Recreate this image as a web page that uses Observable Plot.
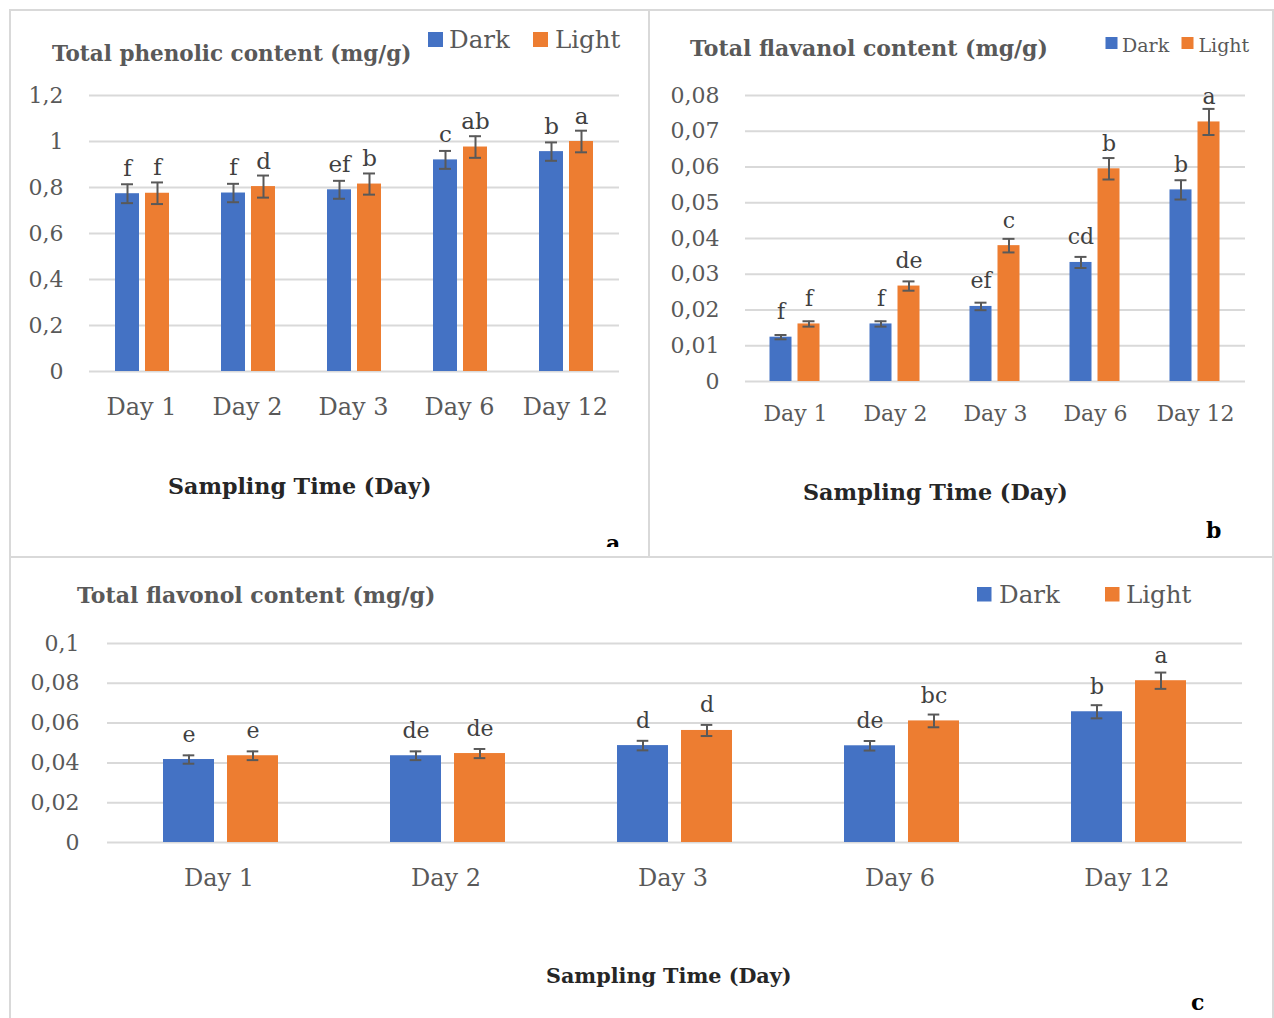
<!DOCTYPE html>
<html>
<head>
<meta charset="utf-8">
<script src="https://cdn.jsdelivr.net/npm/d3@7"></script>
<script src="https://cdn.jsdelivr.net/npm/@observablehq/plot@0.6"></script>
<style>
  body { margin: 0; background: #fff; }
  #page { position: relative; width: 1274px; height: 1018px; overflow: hidden; background: #fff; font-family: "DejaVu Serif", serif; }
  .chart { position: absolute; }
  .frame { position: absolute; border: 2px solid #d9d9d9; box-sizing: border-box; pointer-events: none; }
  #overlay { position: absolute; left: 0; top: 0; pointer-events: none; }
</style>
</head>
<body>
<div id="page"></div>
<script>
// Sampling days and treatment groups
const days = ["Day 1", "Day 2", "Day 3", "Day 6", "Day 12"];
const groups = ["Dark", "Light"];
const groupColors = ["#4472C4", "#ED7D31"];

// Total phenolic content (mg/g)
const phenolicDark = [0.773, 0.776, 0.790, 0.920, 0.956];
const phenolicLight = [0.775, 0.804, 0.815, 0.976, 1.000];
const phenolicDarkErr = [0.041, 0.040, 0.039, 0.039, 0.040];
const phenolicLightErr = [0.047, 0.048, 0.046, 0.047, 0.047];
const phenolicDarkLetters = ["f", "f", "ef", "c", "b"];
const phenolicLightLetters = ["f", "d", "b", "ab", "a"];
const phenolicTicks = [0, 0.2, 0.4, 0.6, 0.8, 1, 1.2];

// Total flavanol content (mg/g)
const flavanolDark = [0.0124, 0.0161, 0.0210, 0.0333, 0.0536];
const flavanolLight = [0.0161, 0.0267, 0.0380, 0.0595, 0.0726];
const flavanolDarkErr = [0.0006, 0.00075, 0.00105, 0.00155, 0.0027];
const flavanolLightErr = [0.00075, 0.0013, 0.0019, 0.0030, 0.00365];
const flavanolDarkLetters = ["f", "f", "ef", "cd", "b"];
const flavanolLightLetters = ["f", "de", "c", "b", "a"];
const flavanolTicks = [0, 0.01, 0.02, 0.03, 0.04, 0.05, 0.06, 0.07, 0.08];

// Total flavonol content (mg/g)
const flavonolDark = [0.0417, 0.0436, 0.0487, 0.0486, 0.0657];
const flavonolLight = [0.0436, 0.0447, 0.0563, 0.0611, 0.0813];
const flavonolDarkErr = [0.0021, 0.0022, 0.0024, 0.0024, 0.0033];
const flavonolLightErr = [0.0022, 0.0023, 0.0028, 0.0032, 0.0041];
const flavonolDarkLetters = ["e", "de", "d", "de", "b"];
const flavonolLightLetters = ["e", "de", "d", "bc", "a"];
const flavonolTicks = [0, 0.02, 0.04, 0.06, 0.08, 0.1];

const decimalComma = d => String(d).replace(".", ",");

function rowsFor(dark, light, darkErr, lightErr, darkLetters, lightLetters) {
  const rows = [];
  days.forEach((day, i) => {
    rows.push({day, group: "Dark", value: dark[i], err: darkErr[i], letter: darkLetters[i]});
    rows.push({day, group: "Light", value: light[i], err: lightErr[i], letter: lightLetters[i]});
  });
  return rows;
}

function groupedBars(rows, ticks, opt) {
  return Plot.plot({
    width: opt.width,
    height: opt.height,
    marginLeft: opt.ml,
    marginRight: opt.mr,
    marginTop: opt.mt,
    marginBottom: opt.mb,
    style: {fontFamily: "DejaVu Serif, serif", color: "#595959", background: "transparent", overflow: "visible"},
    fx: {domain: days, padding: 0, label: null},
    x: {domain: groups, paddingInner: 0.2, paddingOuter: 0.86, axis: null},
    y: {domain: [ticks[0], ticks[ticks.length - 1]], label: null},
    color: {domain: groups, range: groupColors},
    marks: [
      Plot.gridY(ticks, {stroke: "#d9d9d9", strokeOpacity: 1, strokeWidth: 2}),
      Plot.axisY({ticks, tickFormat: decimalComma, tickSize: 0, tickPadding: opt.tickPad, fontSize: opt.tickFont, label: null}),
      Plot.axisFx({anchor: "bottom", tickSize: 0, tickPadding: opt.dayPad, fontSize: opt.dayFont, label: null, dx: opt.dayDx}),
      Plot.barY(rows, {fx: "day", x: "group", y: "value", fill: "group"}),
      Plot.ruleX(rows, {fx: "day", x: "group", y1: d => d.value - d.err, y2: d => d.value + d.err, stroke: "#595959", strokeWidth: 2}),
      Plot.tickY(rows, {fx: "day", x: "group", y: d => d.value - d.err, stroke: "#595959", strokeWidth: 2, inset: opt.capInset}),
      Plot.tickY(rows, {fx: "day", x: "group", y: d => d.value + d.err, stroke: "#595959", strokeWidth: 2, inset: opt.capInset}),
      Plot.text(rows, {fx: "day", x: "group", y: "value", text: "letter", lineAnchor: "bottom", dy: -18, fontSize: opt.letterFont, fill: "#404040"})
    ]
  });
}

const page = document.getElementById("page");

function place(el, left, top) {
  el.classList.add("chart");
  el.style.left = left + "px";
  el.style.top = top + "px";
  page.appendChild(el);
}

function frame(left, top, w, h) {
  const f = document.createElement("div");
  f.className = "frame";
  Object.assign(f.style, {left: left + "px", top: top + "px", width: w + "px", height: h + "px"});
  page.appendChild(f);
}

// Panel a
place(groupedBars(
  rowsFor(phenolicDark, phenolicLight, phenolicDarkErr, phenolicLightErr, phenolicDarkLetters, phenolicLightLetters),
  phenolicTicks,
  {width: 638, height: 545, ml: 79, mr: 29, mt: 85, mb: 184, tickFont: 22, tickPad: 26, dayFont: 24, dayPad: 26, dayDx: -1, letterFont: 23, capInset: 6}
), 10, 10);

// Panel b
place(groupedBars(
  rowsFor(flavanolDark, flavanolLight, flavanolDarkErr, flavanolLightErr, flavanolDarkLetters, flavanolLightLetters),
  flavanolTicks,
  {width: 623, height: 545, ml: 94.5, mr: 28.5, mt: 85, mb: 174, tickFont: 22, tickPad: 26, dayFont: 22, dayPad: 24, dayDx: 0, letterFont: 22, capInset: 5}
), 650, 10);

// Panel c
place(groupedBars(
  rowsFor(flavonolDark, flavonolLight, flavonolDarkErr, flavonolLightErr, flavonolDarkLetters, flavonolLightLetters),
  flavonolTicks,
  {width: 1263, height: 461, ml: 95, mr: 29, mt: 86, mb: 176, tickFont: 22, tickPad: 28, dayFont: 24, dayPad: 26, dayDx: -2, letterFont: 22, capInset: 19.7}
), 10, 557);

frame(9, 9, 641, 549);
frame(648, 9, 626, 549);
frame(9, 556, 1265, 470);

// Titles, legends, axis titles and panel tags
const svg = d3.select(page).append("svg")
  .attr("id", "overlay")
  .attr("width", 1274)
  .attr("height", 1018)
  .style("font-family", "DejaVu Serif, serif");

svg.append("clipPath").attr("id", "clipA")
  .append("rect").attr("x", 0).attr("y", 0).attr("width", 648).attr("height", 547);

function label(x, y, text, size, weight, fill) {
  return svg.append("text").attr("x", x).attr("y", y)
    .attr("font-size", size).attr("font-weight", weight).attr("fill", fill).text(text);
}

function legend(items) {
  items.forEach(it => {
    svg.append("rect").attr("x", it.sx).attr("y", it.sy).attr("width", it.s).attr("height", it.s).attr("fill", it.color);
    label(it.tx, it.ty, it.name, it.size, "normal", "#595959");
  });
}

// a
label(52, 61, "Total phenolic content (mg/g)", 21.5, "bold", "#595959");
legend([
  {name: groups[0], color: groupColors[0], sx: 428, sy: 32, s: 15, tx: 449, ty: 48, size: 24.5},
  {name: groups[1], color: groupColors[1], sx: 533, sy: 32, s: 15, tx: 555, ty: 48, size: 24.5}
]);
label(168, 494, "Sampling Time (Day)", 22.2, "bold", "#262626");
label(606, 551, "a", 22, "bold", "#000").attr("clip-path", "url(#clipA)");

// b
label(690, 55.5, "Total flavanol content (mg/g)", 22, "bold", "#595959");
legend([
  {name: groups[0], color: groupColors[0], sx: 1105.5, sy: 37, s: 12, tx: 1122, ty: 52, size: 19},
  {name: groups[1], color: groupColors[1], sx: 1181.5, sy: 37, s: 12, tx: 1198.5, ty: 52, size: 19}
]);
label(803, 500, "Sampling Time (Day)", 22.3, "bold", "#262626");
label(1206, 538, "b", 22, "bold", "#000");

// c
label(77, 603, "Total flavonol content (mg/g)", 22, "bold", "#595959");
legend([
  {name: groups[0], color: groupColors[0], sx: 977, sy: 587, s: 14.5, tx: 999, ty: 603, size: 24.5},
  {name: groups[1], color: groupColors[1], sx: 1105, sy: 587, s: 14.5, tx: 1126, ty: 603, size: 24.5}
]);
label(546, 983, "Sampling Time (Day)", 20.7, "bold", "#262626");
label(1191, 1010, "c", 22, "bold", "#000");
</script>
</body>
</html>
